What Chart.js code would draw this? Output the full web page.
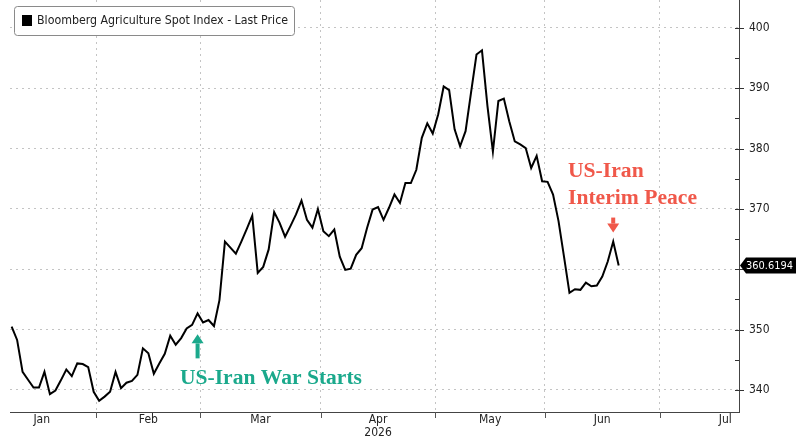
<!DOCTYPE html>
<html>
<head>
<meta charset="utf-8">
<script src="https://cdn.jsdelivr.net/npm/chart.js@4.4.1/dist/chart.umd.min.js"></script>
<style>
  html, body { margin: 0; padding: 0; background: #fff; }
  #wrap { width: 796px; height: 438px; position: relative; }
</style>
</head>
<body>
<div id="wrap"><canvas id="chart" width="796" height="438"></canvas></div>
<script>
const seriesName = 'Bloomberg Agriculture Spot Index - Last Price';

// one value per trading session, Jan 8 -> Jun 18
const prices = [
    350.5, 348.3, 343.0, 341.7, 340.4, 340.4, 343.0, 339.3, 339.9, 341.6,
    343.4, 342.3, 344.4, 344.3, 343.8, 339.7, 338.2, 338.9, 339.7, 343.0,
    340.3, 341.2, 341.5, 342.5, 346.9, 346.1, 342.7, 344.4, 346.0, 349.0,
    347.5, 348.6, 350.2, 350.8, 352.7, 351.2, 351.6, 350.6, 354.9, 364.6,
    363.6, 362.6, 364.6, 366.7, 368.9, 359.4, 360.4, 363.3, 369.5, 367.7,
    365.4, 367.2, 369.1, 371.4, 368.2, 366.9, 370.0, 366.3, 365.5, 366.6,
    362.1, 359.9, 360.1, 362.4, 363.5, 366.9, 369.9, 370.3, 368.2, 370.2,
    372.4, 371.0, 374.3, 374.3, 376.5, 381.8, 384.2, 382.5, 385.7, 390.3,
    389.7, 383.2, 380.4, 382.9, 389.3, 395.6, 396.3, 387.1, 379.5, 387.9,
    388.3, 384.5, 381.2, 380.7, 380.1, 376.8, 378.8, 374.6, 374.5, 372.4,
    368.0, 362.1, 356.1, 356.7, 356.6, 357.8, 357.2, 357.3, 358.8, 361.3,
    364.6, 360.6194
];

const monthLabels = ['Jan', 'Feb', 'Mar', 'Apr', 'May', 'Jun', 'Jul'];
// session index of the first trading day of each month (last entry closes July)
const monthStart = [-4, 16, 35, 57, 78, 98, 119, 143];
const yearLabel = '2026';
const yearUnder = 'Apr';

const yTicks = [340, 345, 350, 355, 360, 365, 370, 375, 380, 385, 390, 395, 400];

const warLabel = 'US-Iran War Starts';
const warIndex = 34;
const peaceLabel = ['US-Iran', 'Interim Peace'];
const peaceIndex = 110;

const TEAL = '#1ba98c';
const RED = '#f0584a';
const AXIS_FONT = '"DejaVu Sans Condensed", "DejaVu Sans", sans-serif';

const boundaries = monthStart.slice(1, -1).map(s => s - 0.5);
const centers = monthLabels.map((m, i) => (monthStart[i] - 0.5 + monthStart[i + 1] - 0.5) / 2);
const lastPrice = prices[prices.length - 1];

function fitFont(ctx, text, weight, family, width) {
    ctx.font = weight + ' 20px ' + family;
    const w = ctx.measureText(text).width;
    return weight + ' ' + (20 * width / w).toFixed(2) + 'px ' + family;
}

function drawArrow(ctx, x, fromY, toY, color) {
    const dir = toY < fromY ? -1 : 1;
    const headLen = 9;
    ctx.save();
    ctx.strokeStyle = color;
    ctx.fillStyle = color;
    ctx.lineWidth = 4;
    ctx.beginPath();
    ctx.moveTo(x, fromY);
    ctx.lineTo(x, toY - dir * headLen);
    ctx.stroke();
    ctx.beginPath();
    ctx.moveTo(x, toY);
    ctx.lineTo(x - 6, toY - dir * headLen);
    ctx.lineTo(x + 6, toY - dir * headLen);
    ctx.closePath();
    ctx.fill();
    ctx.restore();
}

const decorations = {
    id: 'decorations',
    afterDraw(chart) {
        const { ctx, chartArea, scales: { x, y } } = chart;
        ctx.save();

        // month boundary ticks under the axis
        ctx.strokeStyle = '#555';
        ctx.lineWidth = 1;
        boundaries.forEach(b => {
            const px = Math.round(x.getPixelForValue(b)) + 0.5;
            ctx.beginPath();
            ctx.moveTo(px, chartArea.bottom);
            ctx.lineTo(px, chartArea.bottom + 6);
            ctx.stroke();
        });

        // y ticks: minor inside, major across
        ctx.strokeStyle = '#333';
        yTicks.forEach(v => {
            const py = Math.round(y.getPixelForValue(v)) + 0.5;
            const major = v % 10 === 0;
            ctx.beginPath();
            ctx.moveTo(chartArea.right - 4, py);
            ctx.lineTo(chartArea.right + (major ? 5 : 0), py);
            ctx.stroke();
        });

        // last price tag
        const ty = y.getPixelForValue(lastPrice);
        const tx = chartArea.right + 1;
        ctx.fillStyle = '#000';
        ctx.beginPath();
        ctx.moveTo(tx, ty);
        ctx.lineTo(tx + 6, ty - 8);
        ctx.lineTo(796, ty - 8);
        ctx.lineTo(796, ty + 8);
        ctx.lineTo(tx + 6, ty + 8);
        ctx.closePath();
        ctx.fill();
        ctx.fillStyle = '#fff';
        ctx.font = fitFont(ctx, lastPrice.toFixed(4), 'normal', AXIS_FONT, 47);
        ctx.textBaseline = 'middle';
        ctx.textAlign = 'left';
        ctx.fillText(lastPrice.toFixed(4), tx + 6, ty + 0.5);

        // legend box
        ctx.strokeStyle = '#8a8a8a';
        ctx.lineWidth = 1;
        ctx.beginPath();
        ctx.roundRect(14.5, 6.5, 280, 29, 3);
        ctx.fillStyle = '#fff';
        ctx.fill();
        ctx.stroke();
        ctx.fillStyle = '#000';
        ctx.fillRect(22, 15, 10, 11);
        ctx.fillStyle = '#222';
        ctx.font = fitFont(ctx, seriesName, 'normal', AXIS_FONT, 251);
        ctx.textBaseline = 'middle';
        ctx.fillText(seriesName, 37, 21);

        // war annotation
        const wx = x.getPixelForValue(warIndex);
        const wy = y.getPixelForValue(prices[warIndex]);
        drawArrow(ctx, wx, wy + 45, wy + 21, TEAL);
        ctx.fillStyle = TEAL;
        ctx.font = fitFont(ctx, warLabel, 'bold', '"Liberation Serif", serif', 182);
        ctx.textBaseline = 'middle';
        ctx.fillText(warLabel, 180, wy + 65);

        // peace annotation
        const px = x.getPixelForValue(peaceIndex);
        const py = y.getPixelForValue(prices[peaceIndex]);
        drawArrow(ctx, px, py - 24, py - 9, RED);
        ctx.fillStyle = RED;
        ctx.font = fitFont(ctx, peaceLabel[1], 'bold', '"Liberation Serif", serif', 129);
        ctx.fillText(peaceLabel[0], 568, py - 70);
        ctx.fillText(peaceLabel[1], 568, py - 43);

        ctx.restore();
    }
};

new Chart(document.getElementById('chart'), {
    type: 'line',
    data: {
        datasets: [{
            label: seriesName,
            data: prices.map((v, i) => ({ x: i, y: v })),
            borderColor: '#000',
            borderWidth: 2,
            pointRadius: 0,
            tension: 0
        }]
    },
    options: {
        responsive: false,
        animation: false,
        layout: { padding: { left: 10, top: 0, right: 0, bottom: 0 } },
        plugins: { legend: { display: false }, tooltip: { enabled: false } },
        scales: {
            x: {
                type: 'linear',
                min: -0.3,
                max: 133,
                afterBuildTicks(axis) {
                    axis.ticks = boundaries.map(v => ({ value: v }))
                        .concat(centers.map(v => ({ value: v })));
                },
                afterFit(axis) {
                    axis.height = 26;
                    axis.paddingLeft = 0;
                    axis.paddingRight = 0;
                },
                ticks: {
                    autoSkip: false,
                    maxRotation: 0,
                    padding: 2,
                    color: '#222',
                    font: { family: AXIS_FONT, size: 12, lineHeight: 1.05 },
                    callback(value) {
                        const i = centers.indexOf(value);
                        if (i < 0) return '';
                        return monthLabels[i] === yearUnder ? [monthLabels[i], yearLabel] : monthLabels[i];
                    }
                },
                grid: {
                    drawTicks: false,
                    color: ctx => (ctx.tick && boundaries.includes(ctx.tick.value)) ? '#c4c4c4' : 'rgba(0,0,0,0)',
                    lineWidth: 1
                },
                border: { color: '#444', width: 1, dash: [2, 4] }
            },
            y: {
                position: 'right',
                min: 336.35,
                max: 404.64,
                afterBuildTicks(axis) {
                    axis.ticks = yTicks.map(v => ({ value: v }));
                },
                afterFit(axis) {
                    axis.width = 57;
                    axis.paddingTop = 0;
                    axis.paddingBottom = 0;
                },
                ticks: {
                    padding: 10,
                    color: '#222',
                    font: { family: AXIS_FONT, size: 12 },
                    callback(value) {
                        if (value % 10 !== 0) return '';
                        if (Math.abs(value - lastPrice) < 2) return '';
                        return value;
                    }
                },
                grid: {
                    drawTicks: false,
                    color: ctx => (ctx.tick && ctx.tick.value % 10 === 0) ? '#c4c4c4' : 'rgba(0,0,0,0)',
                    lineWidth: 1
                },
                border: { color: '#444', width: 1, dash: [2, 4] }
            }
        }
    },
    plugins: [decorations]
});
</script>
</body>
</html>
